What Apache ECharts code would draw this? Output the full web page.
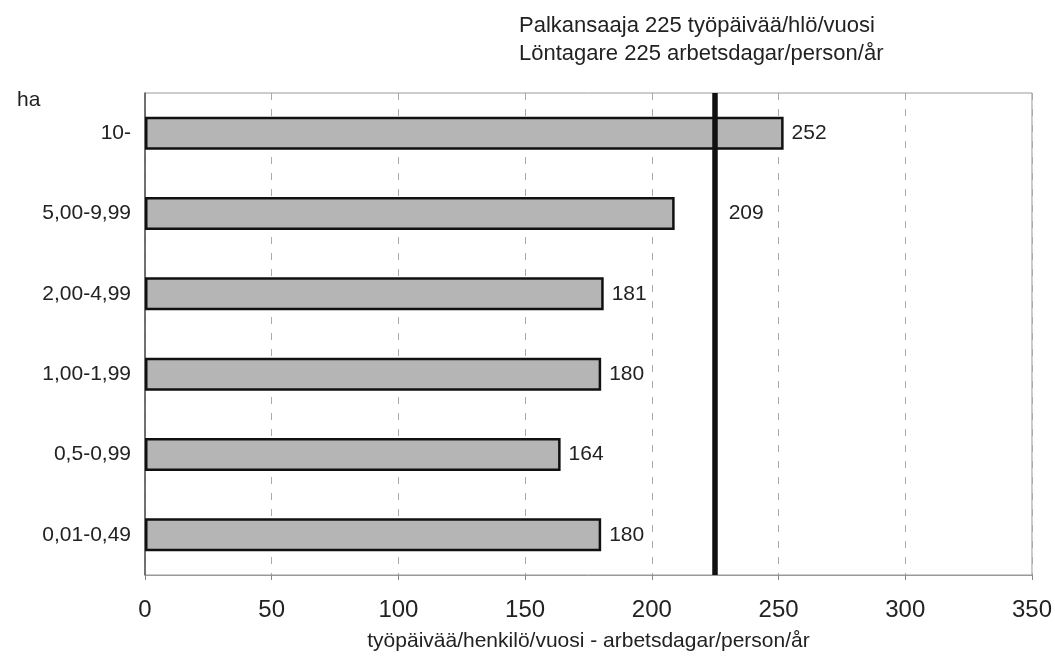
<!DOCTYPE html>
<html>
<head>
<meta charset="utf-8">
<script src="https://cdn.jsdelivr.net/npm/echarts@6/dist/echarts.min.js"></script>
<style>
    html, body { margin: 0; padding: 0; background: #fff; }
    #chart { width: 1055px; height: 657px; }
</style>
</head>
<body>
<div id="chart"></div>
<script>
// categories, top to bottom
var sizeClasses = ['10-', '5,00-9,99', '2,00-4,99', '1,00-1,99', '0,5-0,99', '0,01-0,49'];
var workDays = [252, 209, 181, 180, 164, 180];
var employeeDays = 225;
var xTicks = [0, 50, 100, 150, 200, 250, 300, 350];

var chart = echarts.init(document.getElementById('chart'));

var barData = workDays.map(function (v) {
    var item = { value: v };
    // 209 label sits right of the reference line in the original
    if (v === 209) {
        item.label = { distance: 54 };
    }
    return item;
});

var option = {
    animation: false,
    textStyle: { fontFamily: 'Liberation Sans, Arial, sans-serif' },
    title: [
        {
            text: 'Palkansaaja 225 työpäivää/hlö/vuosi\nLöntagare 225 arbetsdagar/person/år',
            left: 514,
            top: 7,
            textStyle: { fontSize: 22, fontWeight: 'normal', color: '#222', lineHeight: 28 }
        },
        {
            text: 'ha',
            left: 12,
            top: 85,
            textStyle: { fontSize: 21, fontWeight: 'normal', color: '#222' }
        }
    ],
    grid: {
        left: 145,
        right: 22,
        top: 93,
        bottom: 80,
        show: true,
        borderColor: '#999',
        borderWidth: 1
    },
    xAxis: {
        type: 'value',
        min: 0,
        max: 350,
        interval: 50,
        name: 'työpäivää/henkilö/vuosi - arbetsdagar/person/år',
        nameLocation: 'middle',
        nameGap: 56,
        nameTextStyle: { fontSize: 21, color: '#222' },
        axisLine: { show: true, lineStyle: { color: '#999', width: 1 } },
        axisTick: { show: true, length: 5, lineStyle: { color: '#888' } },
        axisLabel: {
            fontSize: 24,
            color: '#222',
            margin: 23,
            formatter: function (v) { return xTicks.indexOf(v) >= 0 ? String(v) : ''; }
        },
        splitLine: {
            show: true,
            lineStyle: { color: '#aaa', type: [7, 9], width: 1 }
        }
    },
    yAxis: {
        type: 'category',
        data: sizeClasses,
        inverse: true,
        axisLine: { show: true, lineStyle: { color: '#555', width: 1.5 } },
        axisTick: { show: false },
        axisLabel: { fontSize: 21, color: '#222', margin: 14 }
    },
    series: [
        {
            type: 'bar',
            data: barData,
            barCategoryGap: '59%',
            itemStyle: {
                color: '#b5b5b5',
                borderColor: '#111',
                borderWidth: 2.5
            },
            label: {
                show: true,
                position: 'right',
                distance: 8,
                fontSize: 21,
                color: '#222'
            },
            markLine: {
                silent: true,
                symbol: ['none', 'none'],
                label: { show: false },
                lineStyle: { color: '#111', width: 5.5, type: 'solid' },
                data: [{ xAxis: employeeDays }]
            }
        }
    ]
};

chart.setOption(option);
</script>
</body>
</html>
